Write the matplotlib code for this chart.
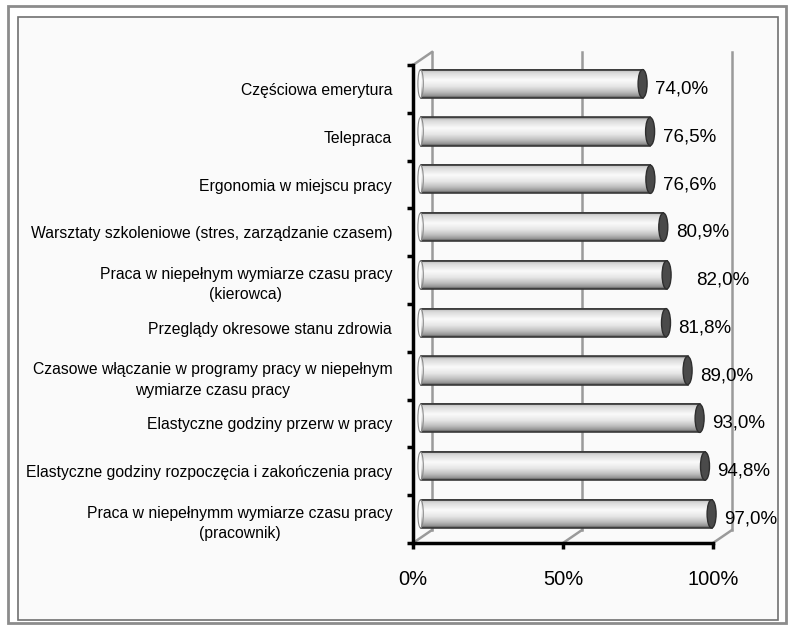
import numpy as np
import matplotlib
matplotlib.use("Agg")
import matplotlib.pyplot as plt
from matplotlib.patches import Rectangle, Ellipse

# ------------------ Dane ----------------------
kategorie = [
    "Częściowa emerytura",
    "Telepraca",
    "Ergonomia w miejscu pracy",
    "Warsztaty szkoleniowe (stres, zarządzanie czasem)",
    "Praca w niepełnym wymiarze czasu pracy\n(kierowca)",
    "Przeglądy okresowe stanu zdrowia",
    "Czasowe włączanie w programy pracy w niepełnym\nwymiarze czasu pracy",
    "Elastyczne godziny przerw w pracy",
    "Elastyczne godziny rozpoczęcia i zakończenia pracy",
    "Praca w niepełnymm wymiarze czasu pracy\n(pracownik)",
]
wartosci = [74.0, 76.5, 76.6, 80.9, 82.0, 81.8, 89.0, 93.0, 94.8, 97.0]
os_x_wartosci = [0, 50, 100]
os_x_etykiety = ["0%", "50%", "100%"]

# ------------------ Ustawienia ----------------------
W, H = 788, 626
glebia_x = 6.33      # przesunięcie tylnej ściany w %
glebia_y = -0.272    # przesunięcie tylnej ściany w kategoriach
poz_slupka = 0.4     # położenie walca w głębi (0 = przód, 1 = tył)
wys_slupka = 0.59
szer_daszka = 3.0

font = ["Liberation Sans", "DejaVu Sans"]

fig = plt.figure(figsize=(W / 100, H / 100), dpi=100)

# tło z ramką
bg = fig.add_axes([0, 0, 1, 1], zorder=-5)
bg.set_xlim(0, W)
bg.set_ylim(H, 0)
bg.axis("off")
bg.add_patch(Rectangle((8, 6), 778, 617, facecolor="white", edgecolor="#8c8c8c", lw=2))
bg.add_patch(Rectangle((18, 17), 760, 603, facecolor="#fafafa", edgecolor="#707070", lw=1.2))
# fazowanie dolnej i prawej krawędzi
grad_dol = np.linspace(0.98, 0.62, 40).reshape(-1, 1)
bg.imshow(grad_dol, cmap="gray", vmin=0, vmax=1, extent=[19, 777, 619, 597],
          aspect="auto", interpolation="bilinear")
grad_prawo = np.linspace(0.98, 0.78, 40).reshape(1, -1)
bg.imshow(grad_prawo, cmap="gray", vmin=0, vmax=1, extent=[764, 777, 597, 18],
          aspect="auto", interpolation="bilinear")
grad_gora = np.linspace(1.0, 0.98, 20).reshape(-1, 1)
bg.imshow(grad_gora, cmap="gray", vmin=0, vmax=1, extent=[19, 764, 30, 18],
          aspect="auto", interpolation="bilinear")
bg.set_xlim(0, W)
bg.set_ylim(H, 0)

# główny wykres: przednia płaszczyzna od 0% do 100%
x0, x1 = 413, 713
y0, y1 = 65, 543
ax = fig.add_axes([x0 / W, (H - y1) / H, (x1 - x0) / W, (y1 - y0) / H])
ax.patch.set_alpha(0)

# tylna ściana
y_gora, y_dol = -0.5, len(kategorie) - 0.5
for p in os_x_wartosci:
    ax.plot([p + glebia_x, p + glebia_x], [y_gora + glebia_y, y_dol + glebia_y],
            color="#9a9a9a", lw=1.8, zorder=1, clip_on=False)
    ax.plot([p, p + glebia_x], [y_dol, y_dol + glebia_y],
            color="#9a9a9a", lw=1.8, zorder=1, clip_on=False)
ax.plot([0, glebia_x], [y_gora, y_gora + glebia_y], color="#9a9a9a", lw=1.8,
        zorder=1, clip_on=False)

# profil cieniowania walca (od góry do dołu)
t = np.linspace(0, 1, 60)
profil = np.interp(t, [0, 0.06, 0.14, 0.38, 0.6, 0.8, 0.93, 1.0],
                   [0.25, 0.78, 0.86, 0.98, 0.9, 0.74, 0.58, 0.28]).reshape(-1, 1)

dx = poz_slupka * glebia_x
dy = poz_slupka * glebia_y
przesun = {4: 12}

for i, v in enumerate(wartosci):
    yc = i + dy
    xs, xe = dx, v + dx
    ax.imshow(profil, cmap="gray", vmin=0, vmax=1, aspect="auto",
              extent=[xs, xe, yc + wys_slupka / 2, yc - wys_slupka / 2],
              interpolation="bilinear", zorder=3, clip_on=False)
    ax.plot([xs, xe], [yc - wys_slupka / 2] * 2, color="#3a3a3a", lw=1.2, zorder=4, clip_on=False)
    ax.plot([xs, xe], [yc + wys_slupka / 2] * 2, color="#3a3a3a", lw=1.2, zorder=4, clip_on=False)
    ax.add_patch(Ellipse((xs, yc), szer_daszka * 0.6, wys_slupka, facecolor="none",
                         edgecolor="#8a8a8a", lw=0.8, zorder=4, clip_on=False))
    ax.add_patch(Ellipse((xe, yc), szer_daszka, wys_slupka, facecolor="#4a4a4a",
                         edgecolor="#2e2e2e", lw=1.0, zorder=5, clip_on=False))
    ax.annotate(f"{v:.1f}%".replace(".", ","), (xe, i), xytext=(9 + przesun.get(i, 0), 0),
                textcoords="offset points", ha="left", va="center", fontsize=13.5,
                family=font, zorder=6, annotation_clip=False)

ax.set_xlim(0, 100)
ax.set_ylim(y_dol, y_gora)

ax.set_yticks(range(len(kategorie)))
ax.set_yticklabels(kategorie, fontsize=11.3, family=font, ha="right")
for lbl in ax.get_yticklabels():
    lbl.set_linespacing(1.45)
    lbl.set_multialignment("center")
ax.set_yticks(np.arange(-0.5, len(kategorie), 1), minor=True)
ax.tick_params(axis="y", which="major", length=0, pad=15)
ax.tick_params(axis="y", which="minor", length=4.5, width=2.5, direction="out", color="black")
ax.set_xticks(os_x_wartosci)
ax.set_xticklabels(os_x_etykiety, fontsize=14.5, family=font)
ax.tick_params(axis="x", length=4.5, width=2.5, direction="out", color="black", pad=15)

for s in ["top", "right"]:
    ax.spines[s].set_visible(False)
for s in ["left", "bottom"]:
    ax.spines[s].set_linewidth(2.5)
    ax.spines[s].set_color("black")

fig.savefig("out.png", dpi=100)
